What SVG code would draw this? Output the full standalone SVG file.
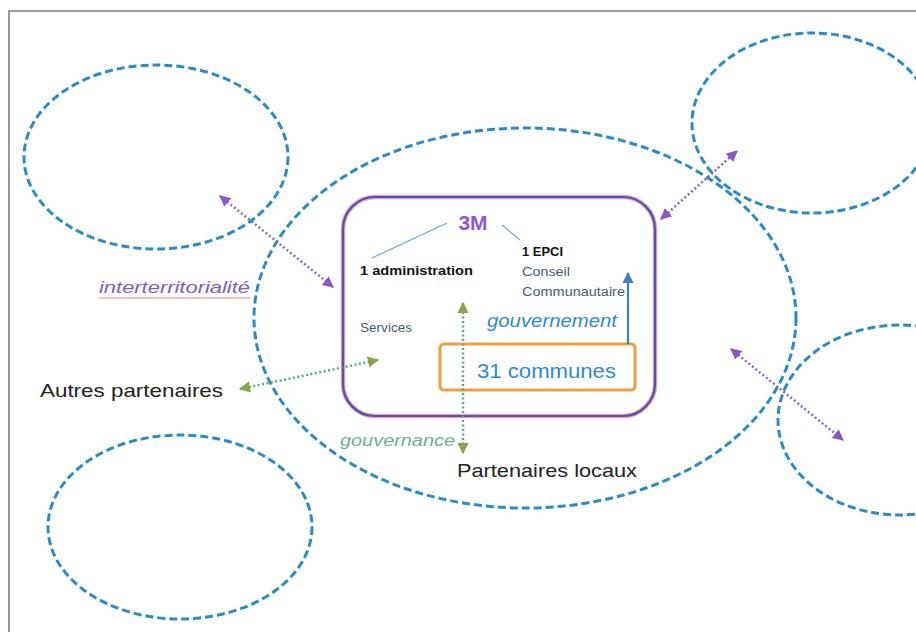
<svg xmlns="http://www.w3.org/2000/svg" width="916" height="632" viewBox="0 0 916 632">
<style>
.terr{fill:none;stroke:#2a8cc4;stroke-width:3;stroke-dasharray:8 4}
.dotp{fill:none;stroke:#8a68c4;stroke-width:2.5;stroke-dasharray:2 2.5}
.dotg{fill:none;stroke:#58a890;stroke-width:2.5;stroke-dasharray:2 2.5}
.t{font-family:"Liberation Sans",Arial,sans-serif}
</style>
<defs>
<marker id="ap" viewBox="0 0 10 10" refX="9" refY="5" markerWidth="4.5" markerHeight="4.5" orient="auto-start-reverse"><path d="M0,0 L10,5 L0,10 z" fill="#8a58c0"/></marker>
<marker id="ag" viewBox="0 0 10 10" refX="9" refY="5" markerWidth="4.5" markerHeight="4.5" orient="auto-start-reverse"><path d="M0,0 L10,5 L0,10 z" fill="#8aa448"/></marker>
<marker id="ab" viewBox="0 0 10 10" refX="9" refY="5" markerWidth="5" markerHeight="5" orient="auto"><path d="M0,0 L10,5 L0,10 z" fill="#3c7cc8"/></marker>
</defs>
<rect x="0" y="0" width="916" height="632" fill="#fff"/>
<rect x="9" y="11" width="920" height="640" fill="none" stroke="#9a9a9a" stroke-width="2"/>

<g id="territoire-haut-gauche"><ellipse class="terr" cx="156" cy="157" rx="132" ry="92"/></g>
<g id="territoire-haut-droite"><ellipse class="terr" cx="812" cy="123" rx="120" ry="90"/></g>
<g id="territoire-bas-gauche"><ellipse class="terr" cx="180" cy="527" rx="132" ry="92"/></g>
<g id="territoire-droite"><ellipse class="terr" cx="900" cy="420" rx="122" ry="95"/></g>
<g id="partenaires-locaux"><ellipse class="terr" cx="525" cy="318" rx="271" ry="190"/>
<text class="t" x="457" y="477" font-size="19" fill="#222" textLength="180" lengthAdjust="spacingAndGlyphs">Partenaires locaux</text></g>

<g id="m3">
<rect x="343" y="197" width="312" height="219" rx="32" fill="none" stroke="#f0a0b0" stroke-width="4.5"/>
<rect x="343" y="197" width="312" height="219" rx="32" fill="none" stroke="#4a56b4" stroke-width="2.2"/>
<text class="t" x="473" y="230" font-size="21" font-weight="bold" fill="#9058d0" text-anchor="middle">3M</text>
<line x1="447" y1="223" x2="372" y2="258" stroke="#6aaad8" stroke-width="1.2"/>
<line x1="502" y1="225" x2="520" y2="240" stroke="#6aaad8" stroke-width="1.2"/>
<text class="t" x="360" y="275" font-size="12" font-weight="bold" fill="#111" textLength="113" lengthAdjust="spacingAndGlyphs">1 administration</text>
<text class="t" x="522" y="256" font-size="12" font-weight="bold" fill="#111" textLength="41" lengthAdjust="spacingAndGlyphs">1 EPCI</text>
<text class="t" x="522" y="276" font-size="12" fill="#4a5a72" textLength="48" lengthAdjust="spacingAndGlyphs">Conseil</text>
<text class="t" x="522" y="296" font-size="12" fill="#4a5a72" textLength="103" lengthAdjust="spacingAndGlyphs">Communautaire</text>
<text class="t" x="360" y="332" font-size="12" fill="#4a5a72" textLength="52" lengthAdjust="spacingAndGlyphs">Services</text>
<text class="t" x="487" y="327" font-size="18" font-style="italic" fill="#2e8ad0" textLength="130" lengthAdjust="spacingAndGlyphs">gouvernement</text>
</g>

<g id="communes">
<rect x="440" y="344" width="195" height="46" rx="4" fill="none" stroke="#e8a040" stroke-width="3"/>
<text class="t" x="477" y="378" font-size="20" fill="#2e8ad0" textLength="139" lengthAdjust="spacingAndGlyphs">31 communes</text>
</g>

<g id="autres-partenaires"><text class="t" x="40" y="397" font-size="19" fill="#222" textLength="183" lengthAdjust="spacingAndGlyphs">Autres partenaires</text></g>

<g id="labels">
<text class="t" x="99" y="293" font-size="17" font-style="italic" fill="#7a5ec4" textLength="151" lengthAdjust="spacingAndGlyphs">interterritorialité</text>
<line x1="99" y1="298" x2="250" y2="298" stroke="#e88080" stroke-width="1"/>
<text class="t" x="340" y="446" font-size="16" font-style="italic" fill="#70b098" textLength="115" lengthAdjust="spacingAndGlyphs">gouvernance</text>
</g>

<g id="connecteurs">
<line class="dotp" x1="220" y1="196" x2="333" y2="287" marker-start="url(#ap)" marker-end="url(#ap)"/>
<line class="dotp" x1="661" y1="219" x2="737" y2="151" marker-start="url(#ap)" marker-end="url(#ap)"/>
<line class="dotp" x1="731" y1="349" x2="843" y2="440" marker-start="url(#ap)" marker-end="url(#ap)"/>
<line class="dotg" x1="240" y1="389" x2="378" y2="360" marker-start="url(#ag)" marker-end="url(#ag)"/>
<line class="dotg" x1="463" y1="303" x2="463" y2="453" marker-start="url(#ag)" marker-end="url(#ag)"/>
<line x1="628" y1="344" x2="628" y2="273" stroke="#3c7cc8" stroke-width="2.2" marker-end="url(#ab)"/>
</g>
</svg>
